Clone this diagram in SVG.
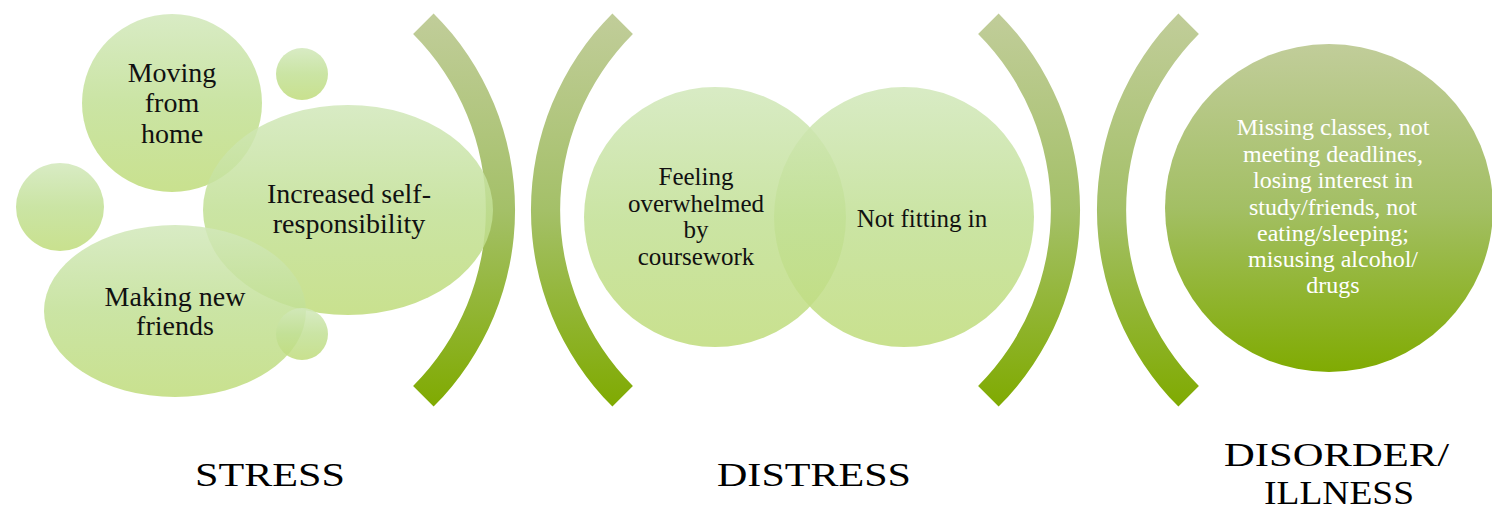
<svg xmlns="http://www.w3.org/2000/svg" width="1492" height="512" viewBox="0 0 1492 512">
  <defs>
    <linearGradient id="bubbleFill" x1="0" y1="0" x2="0" y2="1">
      <stop offset="0" stop-color="#d2e8bb"/>
      <stop offset="0.5" stop-color="#c2e095"/>
      <stop offset="1" stop-color="#c0dc7c"/>
    </linearGradient>
    <linearGradient id="arcFill" gradientUnits="userSpaceOnUse" x1="0" y1="12" x2="0" y2="408">
      <stop offset="0" stop-color="#c1cd9a"/>
      <stop offset="0.5" stop-color="#a4c068"/>
      <stop offset="1" stop-color="#7faa00"/>
    </linearGradient>
    <linearGradient id="outcomeFill" x1="0" y1="0" x2="0" y2="1">
      <stop offset="0" stop-color="#c1cd9a"/>
      <stop offset="0.5" stop-color="#a3bf64"/>
      <stop offset="1" stop-color="#80ab02"/>
    </linearGradient>
  </defs>
  <style>
    .bubble { fill: url(#bubbleFill); fill-opacity: 0.86; }
    .arc { fill: url(#arcFill); }
    .label { font-family: "Liberation Serif", "Times New Roman", serif; fill: #111; text-anchor: middle; }
    .stress { font-size: 28px; }
    .distress { font-size: 25px; }
    .outcome { font-size: 24px; fill: #ffffff; }
    .stage { font-family: "Liberation Serif", "Times New Roman", serif; font-size: 34px; fill: #000; }
  </style>

  <!-- bracket separators between stages -->
  <g id="brackets">
    <path class="arc" d="M 433.6 13.4 A 278 278 0 0 1 433.6 406.6 L 413.1 385.9 A 249 249 0 0 0 413.1 34.1 Z"/>
    <path class="arc" d="M 612.4 13.4 A 278 278 0 0 0 612.4 406.6 L 632.9 385.9 A 249 249 0 0 1 632.9 34.1 Z"/>
    <path class="arc" d="M 998.6 13.4 A 278 278 0 0 1 998.6 406.6 L 978.1 385.9 A 249 249 0 0 0 978.1 34.1 Z"/>
    <path class="arc" d="M 1178.4 13.4 A 278 278 0 0 0 1178.4 406.6 L 1198.9 385.9 A 249 249 0 0 1 1198.9 34.1 Z"/>
  </g>

  <!-- stress bubbles -->
  <g id="moving-from-home">
    <ellipse class="bubble" cx="172" cy="103" rx="90" ry="89"/>
    <text class="label stress" x="172" y="82">Moving</text>
    <text class="label stress" x="172" y="112">from</text>
    <text class="label stress" x="172" y="143">home</text>
  </g>
  <g id="dot-top">
    <circle class="bubble" cx="302" cy="74" r="26"/>
  </g>
  <g id="dot-left">
    <circle class="bubble" cx="60" cy="207" r="44"/>
  </g>
  <g id="self-responsibility">
    <ellipse class="bubble" cx="348" cy="210" rx="145" ry="105"/>
    <text class="label stress" x="349" y="203">Increased self-</text>
    <text class="label stress" x="349" y="233">responsibility</text>
  </g>
  <g id="making-new-friends">
    <ellipse class="bubble" cx="175" cy="311" rx="131" ry="86"/>
    <text class="label stress" x="175" y="306">Making new</text>
    <text class="label stress" x="175" y="335">friends</text>
  </g>
  <g id="dot-bottom">
    <circle class="bubble" cx="302" cy="334" r="26"/>
  </g>

  <!-- distress circles -->
  <g id="overwhelmed">
    <ellipse class="bubble" cx="715" cy="217" rx="131" ry="130"/>
    <text class="label distress" x="696" y="185">Feeling</text>
    <text class="label distress" x="696" y="212">overwhelmed</text>
    <text class="label distress" x="696" y="238">by</text>
    <text class="label distress" x="696" y="265">coursework</text>
  </g>
  <g id="not-fitting-in">
    <circle class="bubble" cx="904" cy="217" r="130"/>
    <text class="label distress" x="922" y="227">Not fitting in</text>
  </g>

  <!-- disorder outcome -->
  <g id="disorder-signs">
    <circle cx="1329" cy="208" r="164" fill="url(#outcomeFill)"/>
    <text class="label outcome" x="1333" y="135">Missing classes, not</text>
    <text class="label outcome" x="1333" y="162">meeting deadlines,</text>
    <text class="label outcome" x="1333" y="188">losing interest in</text>
    <text class="label outcome" x="1333" y="215">study/friends, not</text>
    <text class="label outcome" x="1333" y="241">eating/sleeping;</text>
    <text class="label outcome" x="1333" y="267">misusing alcohol/</text>
    <text class="label outcome" x="1333" y="293">drugs</text>
  </g>

  <!-- stage titles -->
  <g id="stage-stress">
    <text class="stage" x="195" y="486" textLength="150" lengthAdjust="spacingAndGlyphs">STRESS</text>
  </g>
  <g id="stage-distress">
    <text class="stage" x="717" y="486" textLength="194" lengthAdjust="spacingAndGlyphs">DISTRESS</text>
  </g>
  <g id="stage-disorder">
    <text class="stage" x="1224" y="466" textLength="225" lengthAdjust="spacingAndGlyphs">DISORDER/</text>
    <text class="stage" x="1264" y="504" textLength="150" lengthAdjust="spacingAndGlyphs">ILLNESS</text>
  </g>
</svg>
